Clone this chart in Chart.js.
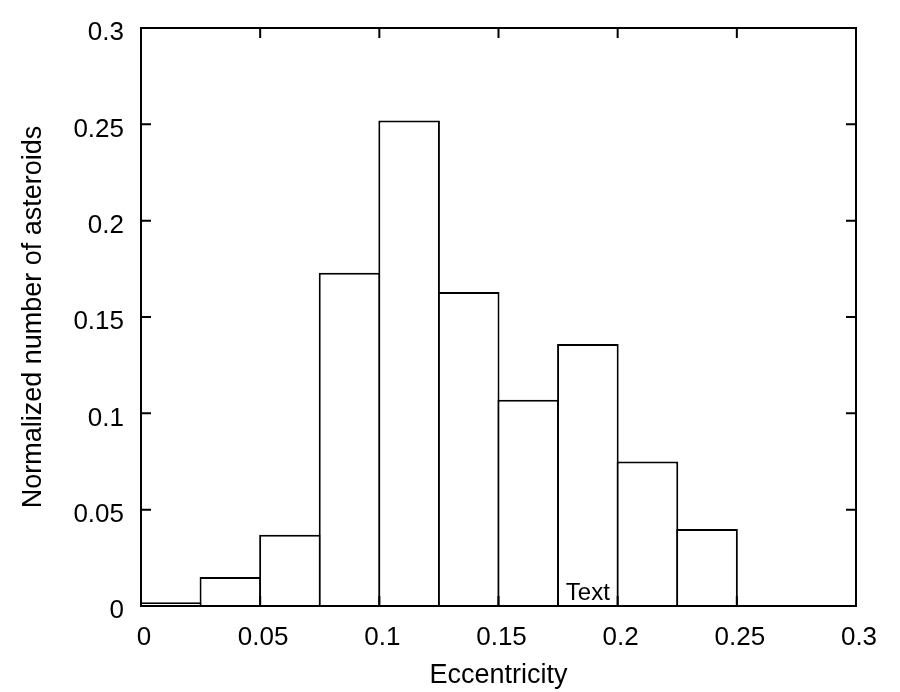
<!DOCTYPE html>
<html>
<head>
<meta charset="utf-8">
<script src="https://cdn.jsdelivr.net/npm/chart.js@4.4.1/dist/chart.umd.min.js"></script>
<style>
  body { margin: 0; background: #fff; }
  #wrap { width: 900px; height: 692px; }
</style>
</head>
<body>
<div id="wrap"><canvas id="hist-chart"></canvas></div>
<script>
// -------- DATA -------- //
const binCenters = [0.0125, 0.0375, 0.0625, 0.0875, 0.1125, 0.1375, 0.1625, 0.1875, 0.2125, 0.2375];
const fractions = [0.002, 0.015, 0.037, 0.173, 0.252, 0.163, 0.107, 0.136, 0.075, 0.040];
const xTicks = [0, 0.05, 0.1, 0.15, 0.2, 0.25, 0.3];
const yTicks = [0, 0.05, 0.1, 0.15, 0.2, 0.25, 0.3];
const noteText = 'Text';
const notePos = [0.1875, 0.0031];

const fontName = '"Liberation Sans", Arial, Helvetica, sans-serif';

// -------- FRAME + INWARD TICKS + NOTE -------- //
const framePlugin = {
  id: 'frame',
  afterDraw(chart) {
    const ctx = chart.ctx;
    const a = chart.chartArea;
    const xs = chart.scales.x;
    const ys = chart.scales.y;
    const len = 10;
    ctx.save();
    ctx.strokeStyle = '#000';
    ctx.lineWidth = 2;
    ctx.strokeRect(a.left, a.top, a.right - a.left, a.bottom - a.top);
    ctx.beginPath();
    xTicks.forEach(v => {
      const px = xs.getPixelForValue(v);
      ctx.moveTo(px, a.bottom); ctx.lineTo(px, a.bottom - len);
      ctx.moveTo(px, a.top); ctx.lineTo(px, a.top + len);
    });
    yTicks.forEach(v => {
      const py = ys.getPixelForValue(v);
      ctx.moveTo(a.left, py); ctx.lineTo(a.left + len, py);
      ctx.moveTo(a.right, py); ctx.lineTo(a.right - len, py);
    });
    ctx.stroke();

    ctx.fillStyle = '#000';
    ctx.font = '24px ' + fontName;
    ctx.textAlign = 'center';
    ctx.textBaseline = 'alphabetic';
    ctx.fillText(noteText, xs.getPixelForValue(notePos[0]), ys.getPixelForValue(notePos[1]));
    ctx.restore();
  }
};

const fmt = v => String(+(+v).toFixed(3));

var histCtx = document.getElementById('hist-chart');

var histChart = new Chart(histCtx, {
  type: 'bar',
  data: {
    datasets: [{
      label: 'Asteroids',
      data: binCenters.map((c, i) => ({ x: c, y: fractions[i] })),
      backgroundColor: '#fff',
      borderColor: '#000',
      borderWidth: 2,
      barPercentage: 1.034,
      categoryPercentage: 1
    }]
  },
  options: {
    responsive: true,
    maintainAspectRatio: false,
    animation: false,
    layout: {
      padding: { top: 28, right: 44, left: 0, bottom: 0 }
    },
    scales: {
      x: {
        type: 'linear',
        min: 0,
        max: 0.3,
        offset: false,
        afterBuildTicks: s => { s.ticks = xTicks.map(v => ({ value: v })); },
        afterFit: s => { s.height = 86; s.paddingLeft = 0; s.paddingRight = 0; },
        grid: { display: false, drawTicks: false },
        border: { display: false },
        ticks: {
          callback: fmt,
          color: '#000',
          font: { family: fontName, size: 26 },
          padding: 16,
          labelOffset: 3,
          maxRotation: 0,
          autoSkip: false
        },
        title: {
          display: true,
          text: 'Eccentricity',
          color: '#000',
          font: { family: fontName, size: 27 },
          padding: { top: 0, bottom: 0 }
        }
      },
      y: {
        min: 0,
        max: 0.3,
        afterBuildTicks: s => { s.ticks = yTicks.map(v => ({ value: v })); },
        afterFit: s => { s.width = 141; s.paddingTop = 0; s.paddingBottom = 0; },
        grid: { display: false, drawTicks: false },
        border: { display: false },
        ticks: {
          callback: fmt,
          color: '#000',
          font: { family: fontName, size: 26 },
          padding: 17,
          labelOffset: 5
        },
        title: {
          display: true,
          text: 'Normalized number of asteroids',
          color: '#000',
          font: { family: fontName, size: 27 },
          padding: { top: 17, bottom: 0 }
        }
      }
    },
    plugins: {
      legend: { display: false },
      tooltip: { enabled: false }
    }
  },
  plugins: [framePlugin]
});
</script>
</body>
</html>
